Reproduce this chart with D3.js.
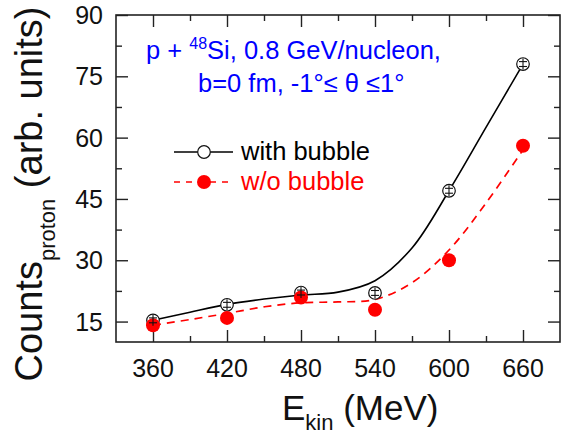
<!DOCTYPE html>
<html><head><meta charset="utf-8">
<script src="https://cdn.jsdelivr.net/npm/d3@7"></script>
<style>body{margin:0;background:#fff}svg{display:block}text{font-family:Arial,"Liberation Sans",sans-serif}</style>
</head><body>
<svg id="c" width="570" height="438"></svg>
<script>
// ---- data ----
const energies = [360, 420, 480, 540, 600, 660];
const withBubble = [15.3, 19.1, 22.1, 22.0, 47.0, 78.0];
const withBubbleErr = [0.6, 0.6, 0.6, 0.6, 0.6, 0.6];
const withoutBubble = [14.1, 15.9, 20.9, 17.9, 30.0, 58.0];
// smooth fit curves
const fitEnergies = [360, 390, 420, 450, 480, 510, 540, 570, 600, 630, 660];
const fitWith = [15.3, 17.3, 19.2, 20.5, 21.5, 22.2, 25.0, 33.0, 47.0, 62.5, 78.0];
const fitWithout = [14.1, 15.5, 17.0, 18.6, 19.6, 19.8, 20.4, 24.5, 32.5, 44.0, 57.0];
const xTicks = [360, 420, 480, 540, 600, 660];
const yTicks = [15, 30, 45, 60, 75, 90];
const legendLabels = ["with bubble", "w/o bubble"];

const svg = d3.select("#c");
const L = 116, R = 560, T = 15, B = 342;
const x = d3.scaleLinear().domain([330, 690]).range([L, R]);
const y = d3.scaleLinear().domain([10, 90]).range([B, T]);

const xMinor = d3.range(390, 690, 60);
const yMinor = d3.range(22.5, 90, 15);

function mk(axisFn, scale, ticks, len) {
  return axisFn(scale).tickValues(ticks).tickSizeInner(len).tickSizeOuter(0).tickFormat(() => "");
}
const gAx = svg.append("g");
gAx.append("g").attr("transform", `translate(0,${B})`).call(mk(d3.axisTop, x, xTicks, 12));
gAx.append("g").attr("transform", `translate(0,${B})`).call(mk(d3.axisTop, x, xMinor, 6));
gAx.append("g").attr("transform", `translate(0,${T})`).call(mk(d3.axisBottom, x, xTicks, 12));
gAx.append("g").attr("transform", `translate(0,${T})`).call(mk(d3.axisBottom, x, xMinor, 6));
gAx.append("g").attr("transform", `translate(${L},0)`).call(mk(d3.axisRight, y, yTicks, 12));
gAx.append("g").attr("transform", `translate(${L},0)`).call(mk(d3.axisRight, y, yMinor, 6));
gAx.append("g").attr("transform", `translate(${R},0)`).call(mk(d3.axisLeft, y, yTicks, 12));
gAx.append("g").attr("transform", `translate(${R},0)`).call(mk(d3.axisLeft, y, yMinor, 6));
gAx.selectAll(".domain").remove();
gAx.selectAll(".tick line").attr("stroke", "#222").attr("stroke-width", 1.4);
svg.append("rect").attr("x", L).attr("y", T).attr("width", R - L).attr("height", B - T)
  .attr("fill", "none").attr("stroke", "#222").attr("stroke-width", 1.6);

// tick labels
svg.append("g").selectAll("text").data(xTicks).join("text")
  .attr("x", d => x(d)).attr("y", B + 35).attr("text-anchor", "middle")
  .attr("font-size", 25).attr("fill", "#111").text(d => d);
svg.append("g").selectAll("text").data(yTicks).join("text")
  .attr("x", 103).attr("y", d => y(d) + 9).attr("text-anchor", "end")
  .attr("font-size", 25).attr("fill", "#111").text(d => d);

// axis titles
const xt = svg.append("text").attr("x", 282).attr("y", 420).attr("font-size", 35).attr("fill", "#111");
xt.append("tspan").text("E");
xt.append("tspan").attr("font-size", 22).attr("dy", 10).text("kin");
xt.append("tspan").attr("dy", -10).text(" (MeV)");

const yt = svg.append("text").attr("transform", "translate(42,194) rotate(-90)")
  .attr("text-anchor", "middle").attr("font-size", 38).attr("fill", "#111");
yt.append("tspan").text("Counts");
yt.append("tspan").attr("font-size", 22).attr("dy", 13).text("proton");
yt.append("tspan").attr("dy", -13).text(" (arb. units)");

// annotation
const a1 = svg.append("text").attr("x", 146).attr("y", 59).attr("font-size", 25.5).attr("fill", "#0000ff");
a1.append("tspan").text("p + ");
a1.append("tspan").attr("font-size", 16).attr("dy", -10).text("48");
a1.append("tspan").attr("dy", 10).text("Si, 0.8 GeV/nucleon,");
svg.append("text").attr("x", 198).attr("y", 92).attr("font-size", 25.5).attr("fill", "#0000ff")
  .text("b=0 fm, -1°≤ θ ≤1°");

// curves
const lineW = d3.line().x((d, i) => x(fitEnergies[i])).y(d => y(d)).curve(d3.curveCatmullRom);
svg.append("path").attr("d", lineW(fitWith)).attr("fill", "none").attr("stroke", "#000").attr("stroke-width", 1.6);
svg.append("path").attr("d", lineW(fitWithout)).attr("fill", "none").attr("stroke", "#ff0000")
  .attr("stroke-width", 1.7).attr("stroke-dasharray", "8,6");

// markers
svg.append("g").selectAll("circle").data(withBubble).join("circle")
  .attr("cx", (d, i) => x(energies[i])).attr("cy", d => y(d)).attr("r", 6.3)
  .attr("fill", "#fff").attr("stroke", "#111").attr("stroke-width", 1.2);
svg.append("g").selectAll("circle").data(withoutBubble).join("circle")
  .attr("cx", (d, i) => x(energies[i])).attr("cy", d => y(d)).attr("r", 7)
  .attr("fill", "#ff0000");
const eb = svg.append("g").attr("stroke", "#111").attr("stroke-width", 1.1);
withBubble.forEach((v, i) => {
  const cx = x(energies[i]);
  eb.append("line").attr("x1", cx).attr("x2", cx).attr("y1", y(v) - 5.5).attr("y2", y(v) + 5.5);
  eb.append("line").attr("x1", cx - 4).attr("x2", cx + 4).attr("y1", y(v + withBubbleErr[i])).attr("y2", y(v + withBubbleErr[i]));
  eb.append("line").attr("x1", cx - 4).attr("x2", cx + 4).attr("y1", y(v - withBubbleErr[i])).attr("y2", y(v - withBubbleErr[i]));
});

// legend
const lg = svg.append("g");
lg.append("line").attr("x1", 174).attr("x2", 233).attr("y1", 152).attr("y2", 152).attr("stroke", "#000").attr("stroke-width", 1.6);
lg.append("circle").attr("cx", 204).attr("cy", 152).attr("r", 6.3).attr("fill", "#fff").attr("stroke", "#111").attr("stroke-width", 1.2);
lg.append("text").attr("x", 241).attr("y", 160).attr("font-size", 25.5).attr("fill", "#000").text(legendLabels[0]);
lg.append("line").attr("x1", 174).attr("x2", 233).attr("y1", 182).attr("y2", 182).attr("stroke", "#ff0000")
  .attr("stroke-width", 1.7).attr("stroke-dasharray", "6,6");
lg.append("circle").attr("cx", 204).attr("cy", 182).attr("r", 7).attr("fill", "#ff0000");
lg.append("text").attr("x", 241).attr("y", 190).attr("font-size", 25.5).attr("fill", "#ff0000").text(legendLabels[1]);
</script>
</body></html>
